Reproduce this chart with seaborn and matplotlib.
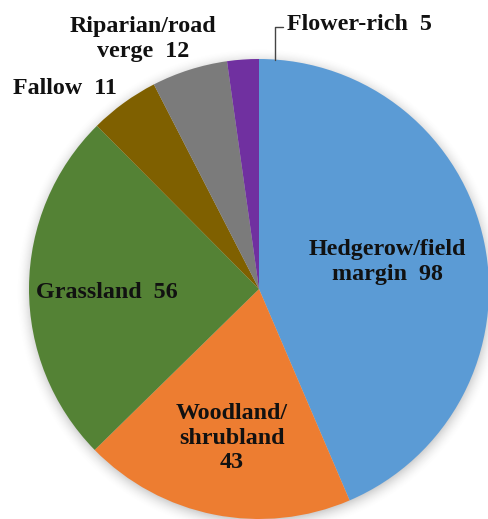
import numpy as np
import matplotlib
matplotlib.use("Agg")
import matplotlib.pyplot as plt
import seaborn as sns

# Habitat categories and number of records in each
categories = ["Hedgerow/field\nmargin", "Woodland/\nshrubland", "Grassland",
              "Fallow", "Riparian/road\nverge", "Flower-rich"]
counts = [98, 43, 56, 11, 12, 5]
colors = ["#5B9BD5", "#ED7D31", "#548235", "#7F6000", "#7B7B7B", "#7030A0"]

sns.set_theme(style="white")
plt.rcParams["font.family"] = ["Liberation Serif", "DejaVu Serif"]

W, H = 489, 519
fig = plt.figure(figsize=(W / 100, H / 100), dpi=100)
ax = fig.add_axes([0, 0, 1, 1])

cx, cy, r = 259, H - 289, 230

# soft drop shadow behind the pie
yy, xx = np.mgrid[0:H, 0:W]
d = np.hypot(xx - cx, yy - (cy - 3))
shadow = np.clip((r + 14 - d) / 16, 0, 1) ** 2 * 0.28
rgba = np.zeros((H, W, 4))
rgba[..., :3] = 0.35
rgba[..., 3] = shadow
ax.imshow(rgba, extent=(0, W, 0, H), origin="lower", zorder=0)

wedges, _ = ax.pie(counts, colors=colors, startangle=90, counterclock=False,
                   center=(cx, cy), radius=r, frame=True,
                   wedgeprops=dict(linewidth=0))
for w in wedges:
    w.set_zorder(2)
ax.set_xlim(0, W)
ax.set_ylim(0, H)
ax.set_aspect("equal")
ax.axis("off")

labels = [f"{c}  {v}" for c, v in zip(categories, counts)]
labels[1] = f"{categories[1]}\n{counts[1]}"
fs = 17.3
style = dict(fontsize=fs, fontweight="bold", color="#111111", zorder=5,
             ha="center", va="center", linespacing=1.2, multialignment="center")

ax.text(387, H - 262, labels[0], **style)
ax.text(232, H - 438, labels[1], **style)
ax.text(107, H - 292, labels[2], **style)
ax.text(65, H - 88, labels[3], **style)
ax.text(143, H - 39, labels[4], **style)

# leader line to the smallest slice
ang = np.deg2rad(90 - counts[-1] / sum(counts) * 360 / 2)
px, py = cx + r * np.cos(ang), cy + r * np.sin(ang)
ax.plot([px, px, px + 8], [py, H - 27, H - 27], color="#444444", lw=1, zorder=4)
ax.text(px + 12, H - 25, labels[5], fontsize=fs, fontweight="bold",
        color="#111111", ha="left", va="center", zorder=5)

fig.savefig("out.png", dpi=100)
